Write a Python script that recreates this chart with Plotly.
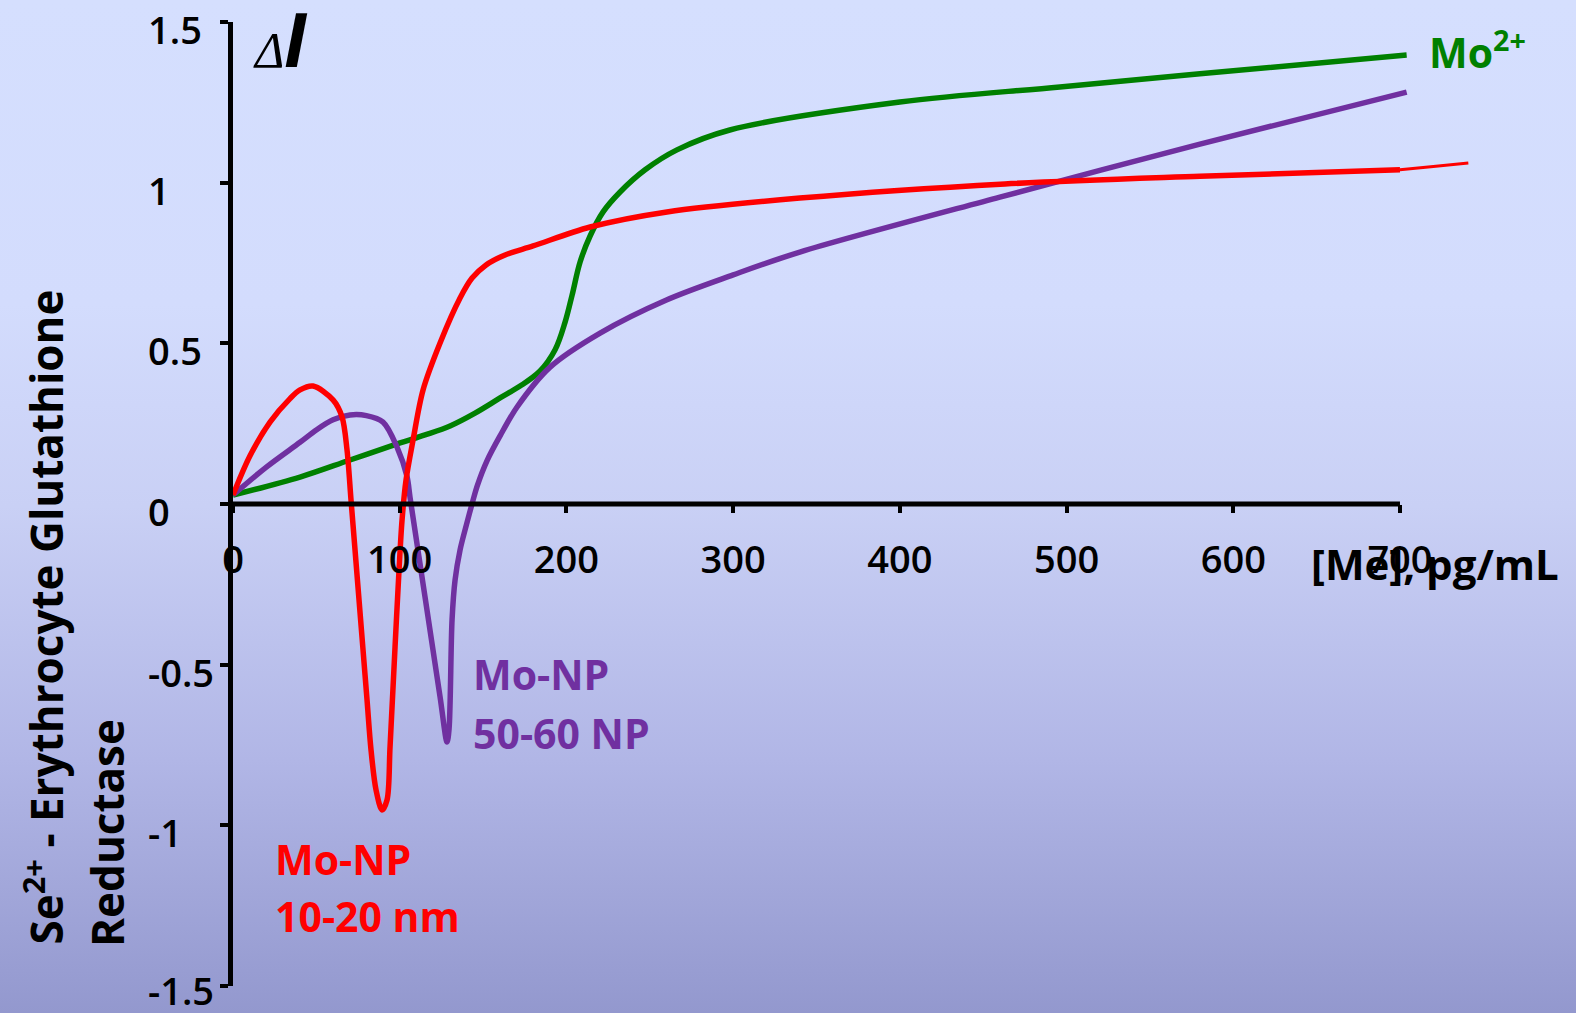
import base64
import plotly.graph_objects as go

# ---------------- data ----------------
red_x = [0, 10.2, 22.2, 34.2, 40.2, 48, 60, 65.4, 68.4, 70.8, 73.2, 75.6, 78.0, 80.4, 82.8, 85.8,
         89.4, 92.4, 94.2, 97.2, 99.6, 101.4, 103.8, 108, 114, 124.2, 136.2, 143.4, 151.8, 163.2,
         180, 214.2, 260.3, 340, 463, 580, 700]
red_y = [0.028, 0.15, 0.255, 0.328, 0.355, 0.367, 0.324, 0.271, 0.168, 0.012, -0.143, -0.299,
         -0.454, -0.61, -0.766, -0.89, -0.952, -0.921, -0.756, -0.445, -0.205, -0.05, 0.075,
         0.199, 0.355, 0.501, 0.641, 0.703, 0.744, 0.775, 0.803, 0.862, 0.909, 0.952, 0.996,
         1.020, 1.040]
red_tail_x = [700, 720, 741]
red_tail_y = [1.040, 1.050, 1.061]

purple_x = [0, 20, 40.2, 50.4, 60, 70.2, 80, 90, 98.4, 104.4, 106.2, 115.2, 124.2, 128.4, 129.6,
            131.4, 133.2, 136.2, 140, 144, 146.4, 152.4, 160.2, 170.4, 190.2, 220.2, 260, 300,
            340, 460, 580, 704]
purple_y = [0.028, 0.115, 0.192, 0.232, 0.262, 0.277, 0.275, 0.255, 0.177, 0.085, 0.02, -0.29,
            -0.60, -0.741, -0.70, -0.36, -0.237, -0.143, -0.065, 0.012, 0.055, 0.135, 0.212,
            0.302, 0.426, 0.532, 0.635, 0.713, 0.784, 0.955, 1.12, 1.282]

green_x = [0, 40.2, 70.2, 100.2, 115.2, 130.2, 145.2, 160.2, 172.2, 184.2, 193.2, 199.2, 203.4,
           208.2, 214.2, 222, 232.2, 247.2, 266.3, 298, 400, 496, 580, 704]
green_y = [0.028, 0.084, 0.137, 0.19, 0.215, 0.243, 0.283, 0.330, 0.367, 0.414, 0.48, 0.566,
           0.65, 0.753, 0.834, 0.909, 0.971, 1.04, 1.102, 1.164, 1.251, 1.298, 1.339, 1.397]

x_ticks = [0, 100, 200, 300, 400, 500, 600, 700]
x_tick_text = ["0", "100", "200", "300", "400", "500", "600", "700"]
y_ticks = [1.5, 1, 0.5, 0, -0.5, -1, -1.5]
y_tick_text = ["1.5", "1", "0.5", "0", "-0.5", "-1", "-1.5"]

# ---------------- layout geometry ----------------
W, H = 1576, 1013
L, R_EDGE, T, B_EDGE = 233, 1475, 22, 986
PW, PH = R_EDGE - L, B_EDGE - T


def xp(px):
    return (px - L) / PW


def yp(py):
    return (B_EDGE - py) / PH


RED, PURPLE, GREEN = "#ff0000", "#7030a0", "#008000"
FONT = "Open Sans"
LW = 5.5

fig = go.Figure()
fig.add_trace(go.Scatter(x=green_x, y=green_y, mode="lines",
                         line=dict(color=GREEN, width=LW, shape="spline", smoothing=1.0),
                         showlegend=False, hoverinfo="skip"))
fig.add_trace(go.Scatter(x=purple_x, y=purple_y, mode="lines",
                         line=dict(color=PURPLE, width=LW, shape="spline", smoothing=0.9),
                         showlegend=False, hoverinfo="skip"))
fig.add_trace(go.Scatter(x=red_x, y=red_y, mode="lines",
                         line=dict(color=RED, width=LW, shape="spline", smoothing=0.9),
                         showlegend=False, hoverinfo="skip"))
fig.add_trace(go.Scatter(x=red_tail_x, y=red_tail_y, mode="lines",
                         line=dict(color=RED, width=3, shape="spline", smoothing=0.8),
                         showlegend=False, hoverinfo="skip"))

# gradient background
svg = (f"<svg xmlns='http://www.w3.org/2000/svg' width='{W}' height='{H}' preserveAspectRatio='none'>"
       "<defs><linearGradient id='g' x1='0' y1='0' x2='0' y2='1'>"
       "<stop offset='0' stop-color='#d5dffe'/>"
       "<stop offset='0.3' stop-color='#d3dcfd'/>"
       "<stop offset='0.5' stop-color='#c9d0f5'/>"
       "<stop offset='0.75' stop-color='#b1b6e6'/>"
       "<stop offset='1' stop-color='#9398ce'/>"
       "</linearGradient></defs>"
       f"<rect width='{W}' height='{H}' fill='url(#g)'/></svg>")
uri = "data:image/svg+xml;base64," + base64.b64encode(svg.encode()).decode()

tickfont = dict(family=FONT, size=38, color="black", weight=600)

annotations = []
# y tick labels (left aligned as in the reference)
for v, t in zip(y_ticks, y_tick_text):
    py = B_EDGE - (v + 1.5) / 3.0 * PH
    annotations.append(dict(x=xp(146), y=yp(min(py + 7, 990)), text=t,
                            xanchor="left", yanchor="middle", font=tickfont))

bold = dict(family=FONT, size=41, weight="bold")
annotations += [
    dict(x=xp(1309), y=yp(563), text="[Me], pg/mL", font=dict(bold, size=42, color="black"),
         xanchor="left", yanchor="middle"),
    dict(x=xp(1427), y=yp(50), text="Mo<sup>2+</sup>", font=dict(bold, color=GREEN),
         xanchor="left", yanchor="middle"),
    dict(x=xp(471), y=yp(674), text="Mo-NP", font=dict(bold, color=PURPLE),
         xanchor="left", yanchor="middle"),
    dict(x=xp(471), y=yp(733), text="50-60 NP", font=dict(bold, color=PURPLE),
         xanchor="left", yanchor="middle"),
    dict(x=xp(273), y=yp(859), text="Mo-NP", font=dict(bold, color=RED),
         xanchor="left", yanchor="middle"),
    dict(x=xp(273), y=yp(916), text="10-20 nm", font=dict(bold, color=RED),
         xanchor="left", yanchor="middle"),
    dict(x=xp(43), y=yp(947), text="Se<sup>2+</sup> - Erythrocyte Glutathione",
         font=dict(family=FONT, size=44, weight="bold", color="black"), textangle=-90,
         xanchor="center", yanchor="bottom"),
    dict(x=xp(107), y=yp(949), text="Reductase",
         font=dict(family=FONT, size=44, weight="bold", color="black"), textangle=-90,
         xanchor="center", yanchor="bottom"),
    dict(x=xp(251), y=yp(86),
         text=("<span style=\"font-family:'Liberation Serif';font-style:italic;font-size:50px\">Δ</span>"
               "<span style=\"font-family:'Liberation Sans';font-style:italic;font-weight:bold;font-size:78px\">I</span>"),
         font=dict(color="black", size=50), xanchor="left", yanchor="bottom"),
]
for a in annotations:
    a.setdefault("xref", "paper")
    a.setdefault("yref", "paper")
    a.setdefault("showarrow", False)

fig.update_layout(
    width=W, height=H,
    margin=dict(l=L, r=W - R_EDGE, t=T, b=H - B_EDGE, pad=0),
    paper_bgcolor="#c9d0f5",
    plot_bgcolor="rgba(0,0,0,0)",
    showlegend=False,
    images=[dict(source=uri, xref="paper", yref="paper", x=xp(0), y=yp(0),
                 sizex=W / PW, sizey=H / PH, xanchor="left", yanchor="top",
                 sizing="stretch", layer="below")],
    xaxis=dict(range=[0, 745], showgrid=False, zeroline=False, showline=False,
               anchor="free", position=0.5,
               tickmode="array", tickvals=x_ticks, ticktext=x_tick_text,
               ticks="outside", ticklen=8, tickwidth=4, tickcolor="black",
               ticklabelstandoff=14, tickfont=tickfont),
    yaxis=dict(range=[-1.5, 1.5], showgrid=False, zeroline=False, showline=True,
               linecolor="black", linewidth=5,
               tickmode="array", tickvals=y_ticks, ticks="outside", ticklen=8,
               tickwidth=4, tickcolor="black", showticklabels=False),
    shapes=[dict(type="line", xref="x", yref="y", x0=0, x1=x_ticks[-1], y0=0, y1=0,
                 line=dict(color="black", width=5), layer="above")],
    annotations=annotations,
)

fig.write_html("out.html")
